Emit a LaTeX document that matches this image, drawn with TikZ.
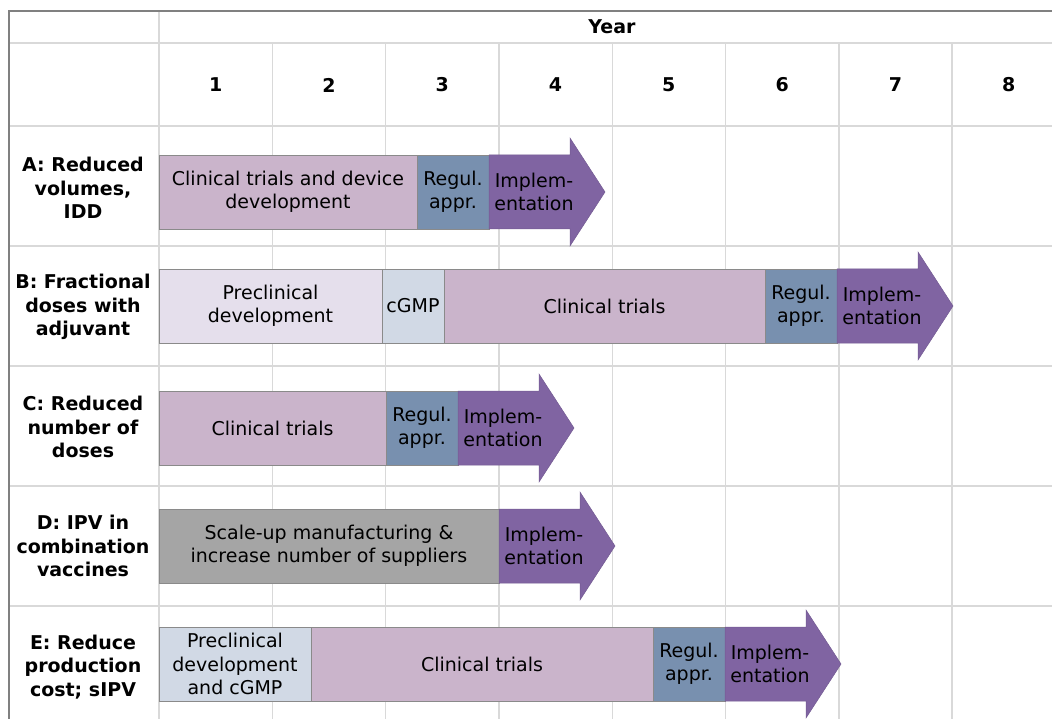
\documentclass[tikz,border=0pt]{standalone}
\usepackage{fontspec}
\setmainfont{DejaVu Sans}
\usetikzlibrary{positioning}
\definecolor{clinfill}{HTML}{CAB4CB}
\definecolor{regfill}{HTML}{7890AF}
\definecolor{implfill}{HTML}{8064A2}
\definecolor{prefill}{HTML}{E5DFEC}
\definecolor{gmpfill}{HTML}{D1D9E5}
\definecolor{scalefill}{HTML}{A5A5A5}
\definecolor{segline}{HTML}{8A8A8A}
\definecolor{gridgray}{HTML}{D9D9D9}
\definecolor{framegray}{HTML}{808080}
\tikzset{
  gridline/.style={draw=gridgray, line width=1.4pt},
  frameline/.style={draw=framegray, line width=1.4pt},
  seg/.style={draw=segline, line width=0.9pt, minimum height=74pt, inner sep=0pt,
    outer sep=0pt, align=center, font=\fontsize{19}{23.5}\selectfont},
  clin/.style={seg, fill=clinfill, anchor=west},
  regul/.style={seg, fill=regfill, minimum width=72pt},
  precl/.style={seg, fill=prefill, anchor=west},
  gmp/.style={seg, fill=gmpfill},
  scaleup/.style={seg, fill=scalefill, anchor=west},
  implarrow/.style={fill=implfill, draw=implfill!90!black, line width=0.5pt},
  impltext/.style={align=center, inner sep=0pt, font=\fontsize{19}{23.5}\selectfont},
  rowlabel/.style={align=center, inner sep=0pt, font=\bfseries\fontsize{19}{23.5}\selectfont},
  yearhead/.style={inner sep=0pt, font=\bfseries\fontsize{19}{23.5}\selectfont},
}
\begin{document}
\begin{tikzpicture}[x=1pt,y=-1pt]
  \useasboundingbox (0,0) rectangle (1052,719);
  % table grid
  \begin{scope}[gridline]
    \foreach \y in {43,126,246,366,486,606}
      \draw (9,\y) -- (1052,\y);
    \draw (159,11) -- (159,719);
    \foreach \k in {1,...,7}
      \draw ({159+113.3*\k},43) -- ({159+113.3*\k},719);
  \end{scope}
  \draw[frameline] (9,719) -- (9,11) -- (1052,11);
  % header
  \node[yearhead] (year) at (612,27) {Year};
  \foreach \n in {1,...,8}
    \node[yearhead] (col\n) at ({159+113.3*(\n-0.5)},85) {\n};
  % row labels
  \node[rowlabel] (labA) at (83,188) {A: Reduced\\volumes,\\IDD};
  \node[rowlabel] (labB) at (83,307) {B: Fractional\\doses with\\adjuvant};
  \node[rowlabel] (labC) at (83,427) {C: Reduced\\number of\\doses};
  \node[rowlabel] (labD) at (83,546) {D: IPV in\\combination\\vaccines};
  \node[rowlabel] (labE) at (83,667) {E: Reduce\\production\\cost; sIPV};
  % A
  \node[clin, minimum width=258pt] (a1) at (159,192) {Clinical trials and device\\development};
  \node[regul, right=0pt of a1] (a2) {Regul.\\appr.};
  \coordinate (a3) at (a2.east);
  \draw[implarrow] (a3) ++(0,-37) -- ++(81,0) -- ++(0,-17) -- ++(35,54)
    -- ++(-35,54) -- ++(0,-17) -- ++(-81,0) -- cycle;
  \node[impltext] (a4) at ([xshift=45pt]a3) {Implem-\\entation};
  % B
  \node[precl, minimum width=223pt] (b1) at (159,306) {Preclinical\\development};
  \node[gmp, minimum width=62pt, right=0pt of b1] (b2) {cGMP};
  \node[seg, fill=clinfill, minimum width=321pt, right=0pt of b2] (b3) {Clinical trials};
  \node[regul, right=0pt of b3] (b4) {Regul.\\appr.};
  \coordinate (b5) at (b4.east);
  \draw[implarrow] (b5) ++(0,-37) -- ++(81,0) -- ++(0,-17) -- ++(35,54)
    -- ++(-35,54) -- ++(0,-17) -- ++(-81,0) -- cycle;
  \node[impltext] (b6) at ([xshift=45pt]b5) {Implem-\\entation};
  % C
  \node[clin, minimum width=227pt] (c1) at (159,428) {Clinical trials};
  \node[regul, right=0pt of c1] (c2) {Regul.\\appr.};
  \coordinate (c3) at (c2.east);
  \draw[implarrow] (c3) ++(0,-37) -- ++(81,0) -- ++(0,-17) -- ++(35,54)
    -- ++(-35,54) -- ++(0,-17) -- ++(-81,0) -- cycle;
  \node[impltext] (c4) at ([xshift=45pt]c3) {Implem-\\entation};
  % D
  \node[scaleup, minimum width=340pt] (d1) at (159,546) {Scale-up manufacturing \&\\increase number of suppliers};
  \coordinate (d2) at (d1.east);
  \draw[implarrow] (d2) ++(0,-37) -- ++(81,0) -- ++(0,-17) -- ++(35,54)
    -- ++(-35,54) -- ++(0,-17) -- ++(-81,0) -- cycle;
  \node[impltext] (d3) at ([xshift=45pt]d2) {Implem-\\entation};
  % E
  \node[precl, fill=gmpfill, minimum width=152pt] (e1) at (159,664) {Preclinical\\development\\and cGMP};
  \node[seg, fill=clinfill, minimum width=342pt, right=0pt of e1] (e2) {Clinical trials};
  \node[regul, right=0pt of e2] (e3) {Regul.\\appr.};
  \coordinate (e4) at (e3.east);
  \draw[implarrow] (e4) ++(0,-37) -- ++(81,0) -- ++(0,-17) -- ++(35,54)
    -- ++(-35,54) -- ++(0,-17) -- ++(-81,0) -- cycle;
  \node[impltext] (e5) at ([xshift=45pt]e4) {Implem-\\entation};
\end{tikzpicture}
\end{document}
